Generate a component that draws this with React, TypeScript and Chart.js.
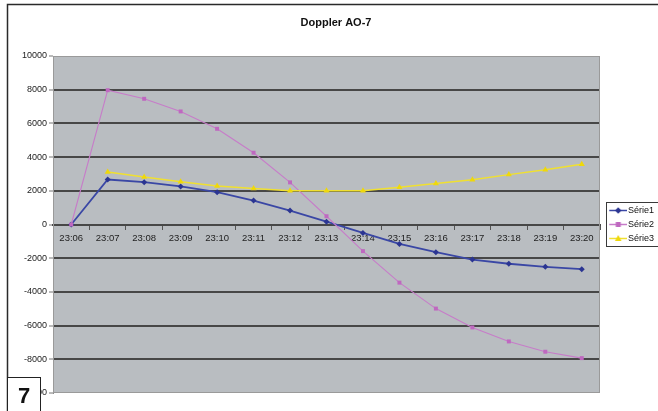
import React, { useEffect, useRef } from 'react';
import { Chart, registerables } from 'chart.js';

Chart.register(...registerables);

// ---- data ----
const categories = ['23:06', '23:07', '23:08', '23:09', '23:10', '23:11', '23:12', '23:13', '23:14', '23:15', '23:16', '23:17', '23:18', '23:19', '23:20'];
const serie1 = [0, 2670, 2510, 2260, 1920, 1420, 830, 170, -500, -1150, -1640, -2080, -2330, -2510, -2650];
const serie2 = [0, 7970, 7460, 6710, 5680, 4260, 2500, 490, -1580, -3450, -4990, -6110, -6940, -7550, -7930];
const serie3 = [null, 3120, 2820, 2540, 2290, 2130, 2000, 2000, 2010, 2210, 2430, 2660, 2960, 3250, 3570];
const seriesNames = ['Série1', 'Série2', 'Série3'];
const yMin = -10000;
const yMax = 10000;
const yStep = 2000;
const chartTitle = 'Doppler AO-7';
const figureNumber = '7';

// ---- styles ----
const FONT = '"Liberation Sans", Arial, sans-serif';
const colors = [
  { line: '#3a47a5', point: '#2b3592', style: 'rectRot', radius: 3, width: 1.8 },
  { line: '#c77cc9', point: '#bf68c0', style: 'rect', radius: 2.8, width: 1.1 },
  { line: '#f0e030', point: '#efd80a', style: 'triangle', radius: 3.5, width: 1.5 },
];

function legendIcon(i: number): HTMLCanvasElement {
  const c = document.createElement('canvas');
  c.width = 26;
  c.height = 9;
  const ctx = c.getContext('2d')!;
  const col = colors[i];
  ctx.strokeStyle = col.line;
  ctx.lineWidth = 1.5;
  ctx.beginPath();
  ctx.moveTo(8, 4.5);
  ctx.lineTo(26, 4.5);
  ctx.stroke();
  ctx.fillStyle = col.point;
  const cx = 17, cy = 4.5;
  ctx.beginPath();
  if (col.style === 'rectRot') {
    ctx.moveTo(cx, cy - 3.2); ctx.lineTo(cx + 3.2, cy); ctx.lineTo(cx, cy + 3.2); ctx.lineTo(cx - 3.2, cy);
  } else if (col.style === 'rect') {
    ctx.rect(cx - 2.5, cy - 2.5, 5, 5);
  } else {
    ctx.moveTo(cx, cy - 3.5); ctx.lineTo(cx + 3.3, cy + 2.5); ctx.lineTo(cx - 3.3, cy + 2.5);
  }
  ctx.closePath();
  ctx.fill();
  return c;
}

const framePlugin = {
  id: 'frame',
  beforeDraw(chart: any) {
    const { ctx, chartArea: a } = chart;
    ctx.save();
    ctx.fillStyle = '#ffffff';
    ctx.fillRect(0, 0, chart.width, chart.height);
    ctx.fillStyle = '#b9bdc1';
    ctx.fillRect(a.left, a.top, a.right - a.left, a.bottom - a.top);
    ctx.restore();
  },
  beforeDatasetsDraw(chart: any) {
    const { ctx, chartArea: a } = chart;
    ctx.save();
    ctx.strokeStyle = '#9a9a9a';
    ctx.lineWidth = 1;
    ctx.strokeRect(a.left + 0.5, a.top + 0.5, a.right - a.left - 1, a.bottom - a.top - 1);
    ctx.restore();
  },
  afterDraw(chart: any) {
    const { ctx } = chart;
    ctx.save();
    // legend box
    const lg = chart.legend;
    if (lg && lg.legendHitBoxes && lg.legendHitBoxes.length) {
      const hb = lg.legendHitBoxes;
      const top = hb[0].top;
      const last = hb[hb.length - 1];
      const bottom = last.top + last.height;
      ctx.strokeStyle = '#3a3a3a';
      ctx.lineWidth = 1;
      ctx.strokeRect(lg.left + 6.5, top - 3.5, chart.width, bottom - top + 7);
    }
    // outer page frame
    ctx.strokeStyle = '#2a2a2a';
    ctx.lineWidth = 1.5;
    ctx.beginPath();
    ctx.moveTo(7.5, chart.height);
    ctx.lineTo(7.5, 4.5);
    ctx.lineTo(chart.width, 4.5);
    ctx.stroke();
    // figure number box
    ctx.fillStyle = '#ffffff';
    ctx.fillRect(7.5, 377.5, 33, 40);
    ctx.lineWidth = 1;
    ctx.strokeStyle = '#222';
    ctx.strokeRect(7.5, 377.5, 33, 40);
    ctx.fillStyle = '#111';
    ctx.font = `bold 22px ${FONT}`;
    ctx.textAlign = 'center';
    ctx.textBaseline = 'alphabetic';
    ctx.fillText(figureNumber, 24, 403);
    ctx.restore();
  },
};

export default function App() {
  const ref = useRef<HTMLCanvasElement>(null);

  useEffect(() => {
    if (!ref.current) return;
    Chart.defaults.font.family = FONT;
    const icons = [0, 1, 2].map(legendIcon);
    const seriesData = [serie1, serie2, serie3];
    const chart = new Chart(ref.current, {
      type: 'line',
      data: {
        labels: categories,
        datasets: seriesData.map((d, i) => ({
          label: seriesNames[i],
          data: d,
          borderColor: colors[i].line,
          backgroundColor: colors[i].point,
          pointBackgroundColor: colors[i].point,
          pointBorderColor: colors[i].point,
          pointBorderWidth: 0,
          pointStyle: colors[i].style as any,
          pointRadius: colors[i].radius,
          borderWidth: colors[i].width,
          tension: 0,
          fill: false,
          order: 3 - i,
        })),
      },
      options: {
        animation: false,
        responsive: false,
        layout: { padding: { left: 14, right: 0, top: 6, bottom: 18 } },
        scales: {
          x: {
            type: 'category',
            position: { y: 0 } as any,
            offset: true,
            grid: {
              offset: true,
              drawOnChartArea: false,
              drawTicks: true,
              tickLength: 4,
              color: '#555',
            },
            border: { display: true, color: '#474747', width: 2 },
            ticks: {
              autoSkip: false,
              maxRotation: 0,
              padding: 4,
              color: '#222',
              font: { size: 9.5, family: FONT },
            },
          },
          y: {
            min: yMin,
            max: yMax,
            afterFit: (scale: any) => { scale.width = 39; },
            grid: {
              color: (c: any) => (c.tick && (c.tick.value === yMax || c.tick.value === yMin) ? 'rgba(0,0,0,0)' : '#474747'),
              lineWidth: 2,
              tickColor: '#777',
              tickWidth: 1,
              tickLength: 4,
            },
            border: { display: true, color: '#8c8c8c', width: 1 },
            ticks: {
              stepSize: yStep,
              padding: 2,
              color: '#222',
              font: { size: 9, family: FONT },
              callback: (v: any) => String(v),
            },
          },
        },
        plugins: {
          title: {
            display: true,
            text: chartTitle,
            color: '#111',
            font: { size: 11, weight: 'bold', family: FONT },
            padding: { top: 10, bottom: 26.8 },
          },
          legend: {
            position: 'right',
            fullSize: false,
            maxWidth: 58,
            labels: {
              usePointStyle: true,
              pointStyleWidth: 18.5,
              padding: 5,
              color: '#111',
              font: { size: 9, family: FONT },
              generateLabels: (ch: any) => {
                const items = Chart.defaults.plugins.legend.labels.generateLabels(ch);
                items.forEach((it: any) => { it.pointStyle = icons[it.datasetIndex]; });
                return items;
              },
              sort: (a: any, b: any) => a.datasetIndex - b.datasetIndex,
            },
          },
          tooltip: { enabled: false },
        },
      },
      plugins: [framePlugin],
    });
    return () => chart.destroy();
  }, []);

  return (
    <div style={{ position: 'absolute', left: 0, top: 0, width: 658, height: 411 }}>
      <canvas ref={ref} width={658} height={411} style={{ display: 'block' }} />
    </div>
  );
}
